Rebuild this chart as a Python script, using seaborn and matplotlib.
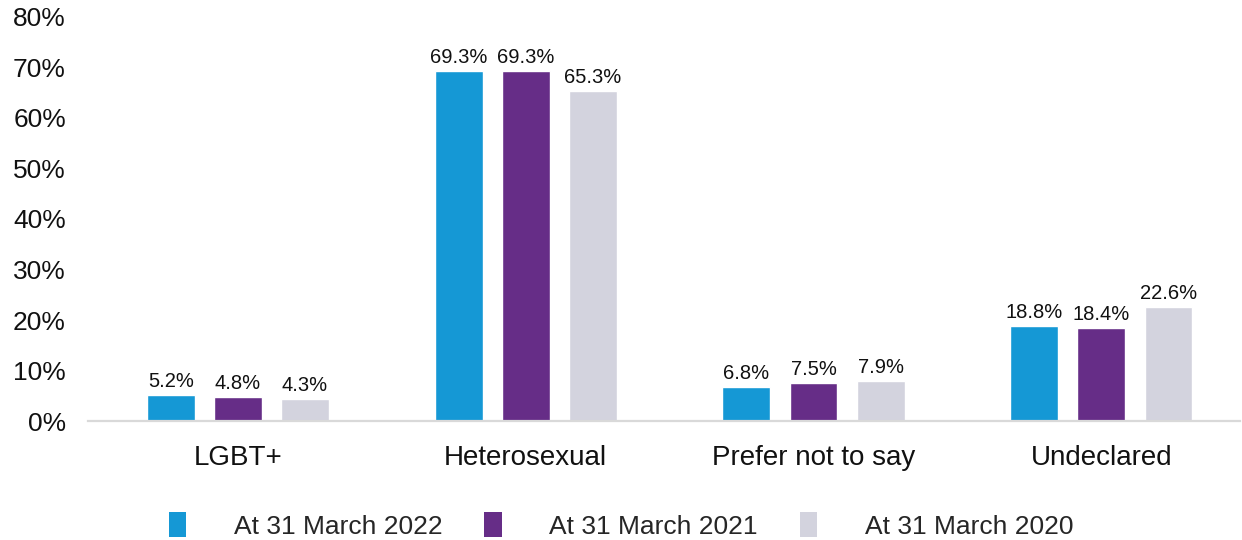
import matplotlib
matplotlib.use("Agg")
import matplotlib.pyplot as plt
import seaborn as sns
import pandas as pd
from matplotlib.patches import Patch

categories = ["LGBT+", "Heterosexual", "Prefer not to say", "Undeclared"]
series_names = ["At 31 March 2022", "At 31 March 2021", "At 31 March 2020"]
values_2022 = [5.2, 69.3, 6.8, 18.8]
values_2021 = [4.8, 69.3, 7.5, 18.4]
values_2020 = [4.3, 65.3, 7.9, 22.6]
y_ticks = [0, 10, 20, 30, 40, 50, 60, 70, 80]
colors = ["#1598d5", "#662d87", "#d3d3de"]

rows = []
for name, vals in zip(series_names, [values_2022, values_2021, values_2020]):
    for cat, v in zip(categories, vals):
        rows.append({"category": cat, "series": name, "value": v})
df = pd.DataFrame(rows)

sns.set_theme(style="white")
plt.rcParams["font.family"] = ["Liberation Sans", "DejaVu Sans"]

fig = plt.figure(figsize=(12.42, 5.4), dpi=100)
ax = fig.add_axes([0.071, 0.22, 0.927, 0.749])

sns.barplot(data=df, x="category", y="value", hue="series",
            order=categories, hue_order=series_names, palette=colors,
            width=0.7, gap=0.286, saturation=1, legend=False, ax=ax)

for container in ax.containers:
    ax.bar_label(container, labels=[f"{v:.1f}%" for v in container.datavalues],
                 padding=3, fontsize=14.5, color="#111111")

ax.set_xlim(-0.52, 3.48)
ax.set_ylim(0, 80)
ax.set_yticks(y_ticks)
ax.set_yticklabels([f"{t}%" for t in y_ticks], fontsize=19, color="#111111")
ax.tick_params(axis="y", length=0, pad=16)
ax.tick_params(axis="x", length=0, pad=17, labelsize=20, labelcolor="#111111")
ax.set_xlabel("")
ax.set_ylabel("")
for side in ["top", "right", "left"]:
    ax.spines[side].set_visible(False)
ax.spines["bottom"].set_color("#d9d9d9")
ax.spines["bottom"].set_linewidth(1.6)

handles = [Patch(facecolor=c, edgecolor="none", label=n) for c, n in zip(colors, series_names)]
fig.legend(handles=handles, loc="center", bbox_to_anchor=(0.5, 0.027), ncol=3,
           frameon=False, fontsize=19, handlelength=0.65, handleheight=1.1,
           handletextpad=1.8, columnspacing=1.6)

fig.savefig("out.png", dpi=100)
